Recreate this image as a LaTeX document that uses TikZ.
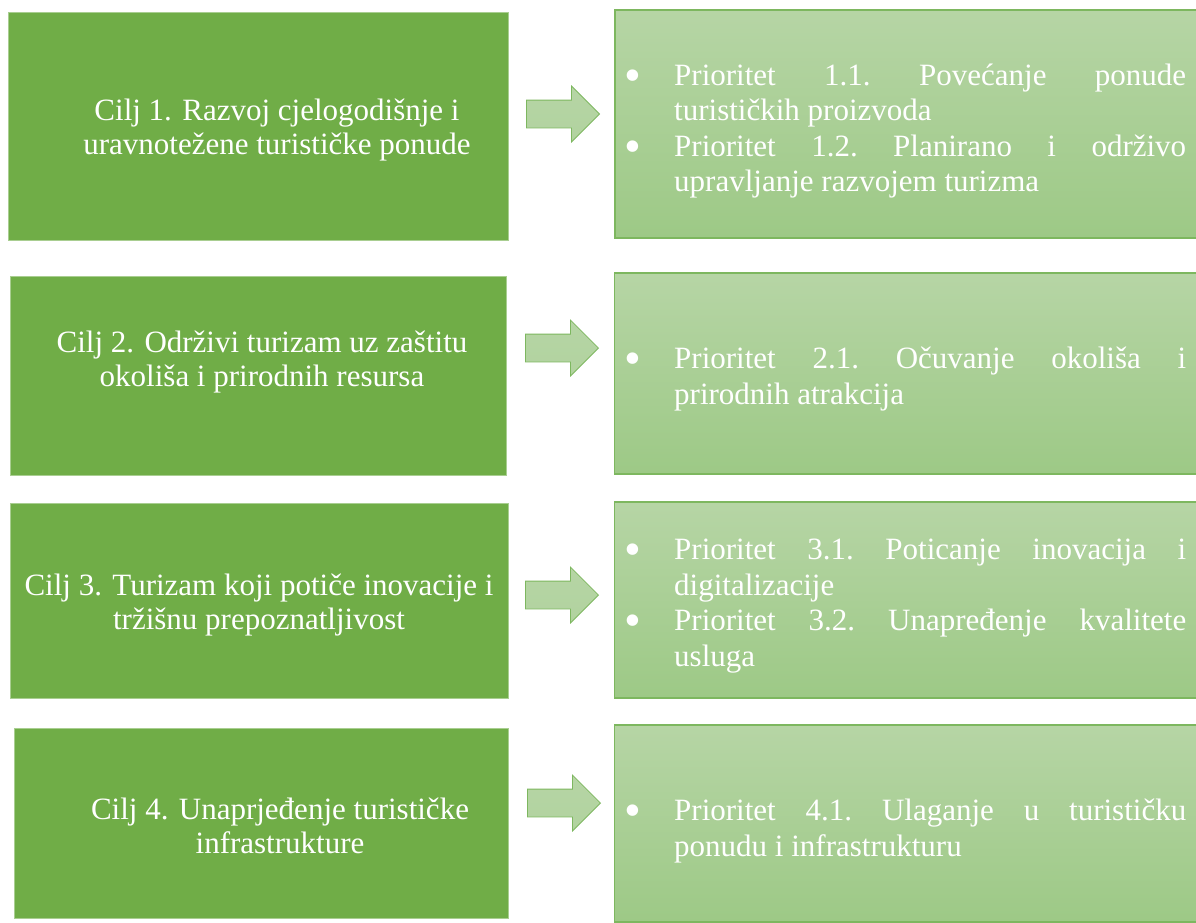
\documentclass[tikz,border=0pt]{standalone}
\usepackage{fontspec}
\setmainfont{Liberation Serif}
\usetikzlibrary{shapes.arrows}
\definecolor{cilj}{HTML}{70AD47}
\definecolor{priotop}{HTML}{B6D5A5}
\definecolor{priobot}{HTML}{9DC986}
\definecolor{priorub}{HTML}{7DB75F}
\newcommand{\bul}{\makebox[50pt][l]{\raisebox{-6pt}{\fontsize{48}{35}\selectfont\textbullet}}}
\newcommand{\ind}{\hspace*{50pt}}
\newcommand{\puni}[1]{\hbox to 512pt{#1}}

\begin{document}
\begin{tikzpicture}[x=1pt,y=-1pt,
	ciljbox/.style={fill=cilj,draw=cilj!60,line width=0.6pt,inner sep=0pt},
	priobox/.style={top color=priotop,bottom color=priobot,draw=priorub,line width=1.2pt,inner sep=0pt},
	strelica/.style={single arrow,single arrow head extend=14pt,minimum height=73pt,inner xsep=0pt,inner ysep=13.5pt,top color=priotop,bottom color=priotop!80!priobot,draw=priorub,line width=0.8pt,anchor=tip},
	tekst/.style={text=white,font=\fontsize{31}{34}\selectfont,align=center,inner sep=0pt},
	ptekst/.style={text=white,font=\fontsize{31}{35.5}\selectfont,align=left,inner sep=0pt,anchor=west}]
	\useasboundingbox (0,0) rectangle (1196,922);
	\clip (0,0) rectangle (1196,922);
	\fill[white] (0,0) rectangle (1196,922);

	\node[ciljbox,minimum width=500pt,minimum height=228pt] (c1) at (258,126) {};
	\node[ciljbox,minimum width=496pt,minimum height=199pt] (c2) at (258,375.5) {};
	\node[ciljbox,minimum width=498pt,minimum height=195pt] (c3) at (259,600.5) {};
	\node[ciljbox,minimum width=494pt,minimum height=190pt] (c4) at (261,823) {};

	\node[tekst] (t1) at (277,130) {Cilj 1. Razvoj cjelogodišnje i\\uravnotežene turističke ponude};
	\node[tekst] (t2) at (262,362) {Cilj 2. Održivi turizam uz zaštitu\\okoliša i prirodnih resursa};
	\node[tekst] (t3) at (259,605) {Cilj 3. Turizam koji potiče inovacije i\\tržišnu prepoznatljivost};
	\node[tekst] (t4) at (280,826) {Cilj 4. Unaprjeđenje turističke\\infrastrukture};

	\node[priobox,minimum width=582pt,minimum height=228pt] (p1) at (906,124) {};
	\node[priobox,minimum width=583pt,minimum height=201pt] (p2) at (906,373.5) {};
	\node[priobox,minimum width=583pt,minimum height=196pt] (p3) at (906,600) {};
	\node[priobox,minimum width=583pt,minimum height=197pt] (p4) at (906,823.5) {};

	\node[ptekst] (pt1) at (624,131) {\bul\puni{Prioritet\hfill 1.1.\hfill Povećanje\hfill ponude}\\
		\ind turističkih proizvoda\\
		\bul\puni{Prioritet\hfill 1.2.\hfill Planirano\hfill i\hfill održivo}\\
		\ind upravljanje razvojem turizma};
	\node[ptekst] (pt2) at (624,379) {\bul\puni{Prioritet\hfill 2.1.\hfill Očuvanje\hfill okoliša\hfill i}\\
		\ind prirodnih atrakcija};
	\node[ptekst] (pt3) at (624,606) {\bul\puni{Prioritet\hfill 3.1.\hfill Poticanje\hfill inovacija\hfill i}\\
		\ind digitalizacije\\
		\bul\puni{Prioritet\hfill 3.2.\hfill Unapređenje\hfill kvalitete}\\
		\ind usluga};
	\node[ptekst] (pt4) at (624,831) {\bul\puni{Prioritet\hfill 4.1.\hfill Ulaganje\hfill u\hfill turističku}\\
		\ind ponudu i infrastrukturu};

	\node[strelica] (s1) at (600,114) {};
	\node[strelica] (s2) at (599,348) {};
	\node[strelica] (s3) at (599,595) {};
	\node[strelica] (s4) at (601,803) {};
\end{tikzpicture}
\end{document}
